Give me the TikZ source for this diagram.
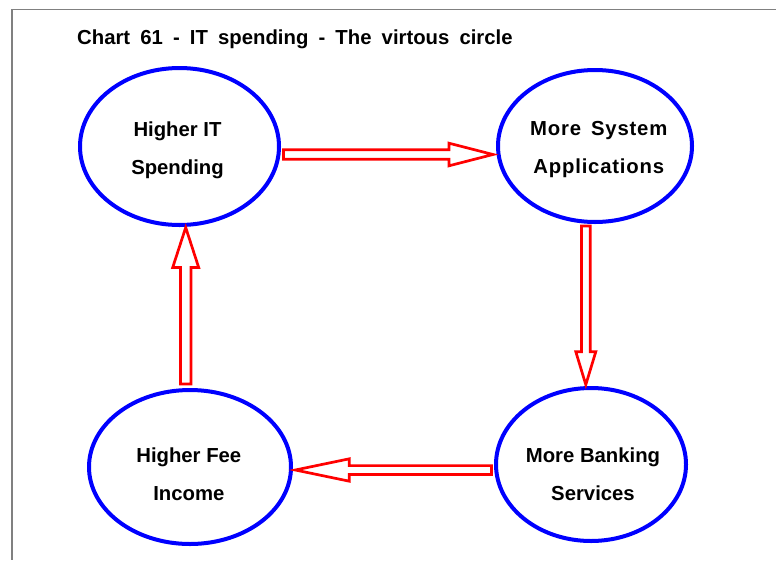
\documentclass[tikz,border=0pt]{standalone}
\usepackage{fontspec}
\setmainfont{Liberation Sans}
\usetikzlibrary{shapes.geometric,calc}
\begin{document}
\begin{tikzpicture}[x=1pt,y=-1pt,
  bub/.style={ellipse,draw=blue,line width=4pt,inner sep=0pt,fill=white},
  lbl/.style={font=\bfseries\fontsize{20.3}{38}\selectfont,align=center,text depth=4.5pt,inner sep=0pt},
  blockarr/.style={draw=red,line width=2.7pt,fill=white,line join=miter},
  frameline/.style={draw=black!50,line width=1.5pt}]
\useasboundingbox (0,0) rectangle (776,560);
% frame
\coordinate (fr1) at (776,9.5);
\coordinate (fr2) at (12,9.5);
\coordinate (fr3) at (12,560);
\draw[frameline] (fr1) -- (fr2) -- (fr3);
% title
\node[anchor=base west,inner sep=0pt,font=\bfseries\fontsize{20.3}{24}\selectfont] (title) at (77,44.3) {\spaceskip=0.5em\relax Chart 61 - IT spending - The virtous circle};
% ellipses
\node[bub,minimum width=199pt,minimum height=157pt] (hi) at (179.5,146.5) {};
\node[bub,minimum width=194pt,minimum height=152pt] (ms) at (595,146) {};
\node[bub,minimum width=202pt,minimum height=154pt] (hf) at (190,467) {};
\node[bub,minimum width=190pt,minimum height=153pt] (mb) at (591,464.5) {};
% labels
\node[lbl] (hiT) at (177.5,150) {Higher IT\\Spending};
\node[lbl,font=\bfseries\fontsize{20.3}{38}\selectfont\addfontfeature{LetterSpace=4}] (msT) at (598.8,150) {More\hspace{10pt}System\\Applications};
\node[lbl] (hfT) at (188.8,476) {Higher Fee\\Income};
\node[lbl] (mbT) at (593,476) {More Banking\\Services};
% arrow rows/columns
\coordinate (rowTop) at (0,154.5);
\coordinate (rowBot) at (0,470);
\coordinate (colR) at (585.8,0);
\coordinate (colL) at (185.7,0);
% right arrow: hi -> ms
\draw[blockarr] let \p1=($(hi.east|-rowTop)+(2.5,0)$), \p2=($(ms.west|-rowTop)+(-3,0)$) in
  (\x1,\y1+4.7pt) -- (\x2-44pt,\y1+4.7pt) -- (\x2-44pt,\y1+11.3pt) -- (\x2,\y1)
  -- (\x2-44pt,\y1-11.3pt) -- (\x2-44pt,\y1-4.7pt) -- (\x1,\y1-4.7pt) -- cycle;
% down arrow: ms -> mb
\draw[blockarr] let \p1=($(colR|-ms.south)+(0,2)$), \p2=($(colR|-mb.north)+(0,-1.3)$) in
  (\x1-4.4pt,\y1) -- (\x1-4.4pt,\y2+33pt) -- (\x1-10pt,\y2+33pt) -- (\x1,\y2)
  -- (\x1+10pt,\y2+33pt) -- (\x1+4.4pt,\y2+33pt) -- (\x1+4.4pt,\y1) -- cycle;
% left arrow: mb -> hf
\draw[blockarr] let \p1=($(mb.west|-rowBot)+(-2.5,0)$), \p2=($(hf.east|-rowBot)+(2.3,0)$) in
  (\x1,\y1+4.4pt) -- (\x2+54pt,\y1+4.4pt) -- (\x2+54pt,\y1+11.2pt) -- (\x2,\y1)
  -- (\x2+54pt,\y1-11.2pt) -- (\x2+54pt,\y1-4.4pt) -- (\x1,\y1-4.4pt) -- cycle;
% up arrow: hf -> hi
\draw[blockarr] let \p1=($(colL|-hf.north)+(0,-4)$), \p2=($(colL|-hi.south)+(0,0.5)$) in
  (\x1-5.2pt,\y1) -- (\x1-5.2pt,\y2-40pt) -- (\x1-13pt,\y2-40pt) -- (\x1,\y2)
  -- (\x1+13pt,\y2-40pt) -- (\x1+5.2pt,\y2-40pt) -- (\x1+5.2pt,\y1) -- cycle;
\end{tikzpicture}
\end{document}
